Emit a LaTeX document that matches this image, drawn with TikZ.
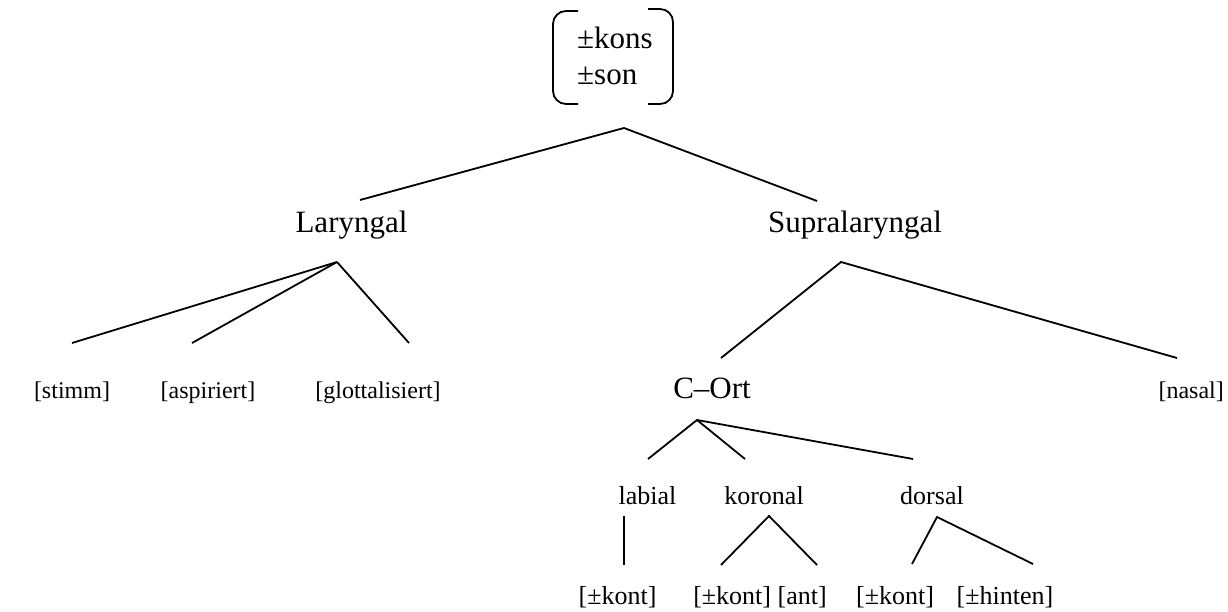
\documentclass[tikz,border=0pt]{standalone}
\usepackage{fontspec}
\setmainfont{Liberation Serif}
\begin{document}
\begin{tikzpicture}[x=1pt,y=-1pt,
  big/.style={font=\fontsize{31}{36}\selectfont,inner sep=0pt,anchor=base},
  mid/.style={font=\fontsize{26}{30}\selectfont,inner sep=0pt,anchor=base},
  sml/.style={font=\fontsize{24}{28}\selectfont,inner sep=0pt,anchor=base},
  branch/.style={line width=1.8pt,line cap=butt},
  brack/.style={line width=1.8pt,rounded corners=13pt}]
\useasboundingbox (0,0) rectangle (1228,612);
% root bracket
\node[big,anchor=base west] (kons) at (577,49) {±kons};
\node[big,anchor=base west] (son) at (577,85) {±son};
\draw[brack] (578,11) -- (553,11) -- (553,104) -- (578,104);
\draw[brack] (648,9) -- (673,9) -- (673,104) -- (648,104);
% level 1
\coordinate (r) at (624,128);
\coordinate (rL) at (360,200);
\coordinate (rS) at (817,201);
\node[big] (lar) at (351.5,233) {Laryngal};
\node[big] (sup) at (855,233) {Supralaryngal};
\draw[branch] (rL) -- (r) -- (rS);
% Laryngal children
\coordinate (l) at (337,262);
\coordinate (l1) at (72,343);
\coordinate (l2) at (192,343);
\coordinate (l3) at (409,343);
\draw[branch] (l1) -- (l);
\draw[branch] (l2) -- (l);
\draw[branch] (l3) -- (l);
\node[sml] (stimm) at (72,398) {[stimm]};
\node[sml] (asp) at (208,398) {[aspiriert]};
\node[sml] (glot) at (378,398) {[glottalisiert]};
% Supralaryngal children
\coordinate (s) at (841,262);
\coordinate (s1) at (721,358);
\coordinate (s2) at (1177,358);
\draw[branch] (s1) -- (s) -- (s2);
\node[big] (cort) at (712,398) {C–Ort};
\node[sml,anchor=base east] (nasal) at (1224,398) {[nasal]};
% C-Ort children
\coordinate (c) at (697,420);
\coordinate (c1) at (648,459);
\coordinate (c2) at (745,459);
\coordinate (c3) at (913,459);
\draw[branch] (c1) -- (c) -- (c2);
\draw[branch] (c) -- (c3);
\node[mid] (lab) at (647.5,504) {labial};
\node[mid] (kor) at (764,504) {koronal};
\node[mid] (dor) at (932,504) {dorsal};
% bottom
\coordinate (b1a) at (624,516);
\coordinate (b1b) at (624,565);
\draw[branch] (b1a) -- (b1b);
\coordinate (k) at (769,516);
\coordinate (k1) at (721,565);
\coordinate (k2) at (817,565);
\draw[branch] (k1) -- (k) -- (k2);
\coordinate (d) at (937,517);
\coordinate (d1) at (912,564);
\coordinate (d2) at (1033,564);
\draw[branch] (d1) -- (d) -- (d2);
\node[mid] (kont1) at (617.5,604) {[±kont]};
\node[mid] (kont2) at (760,604) {[±kont] [ant]};
\node[mid] (kont3) at (895,604) {[±kont]};
\node[mid] (hint) at (1005,604) {[±hinten]};
\end{tikzpicture}
\end{document}
